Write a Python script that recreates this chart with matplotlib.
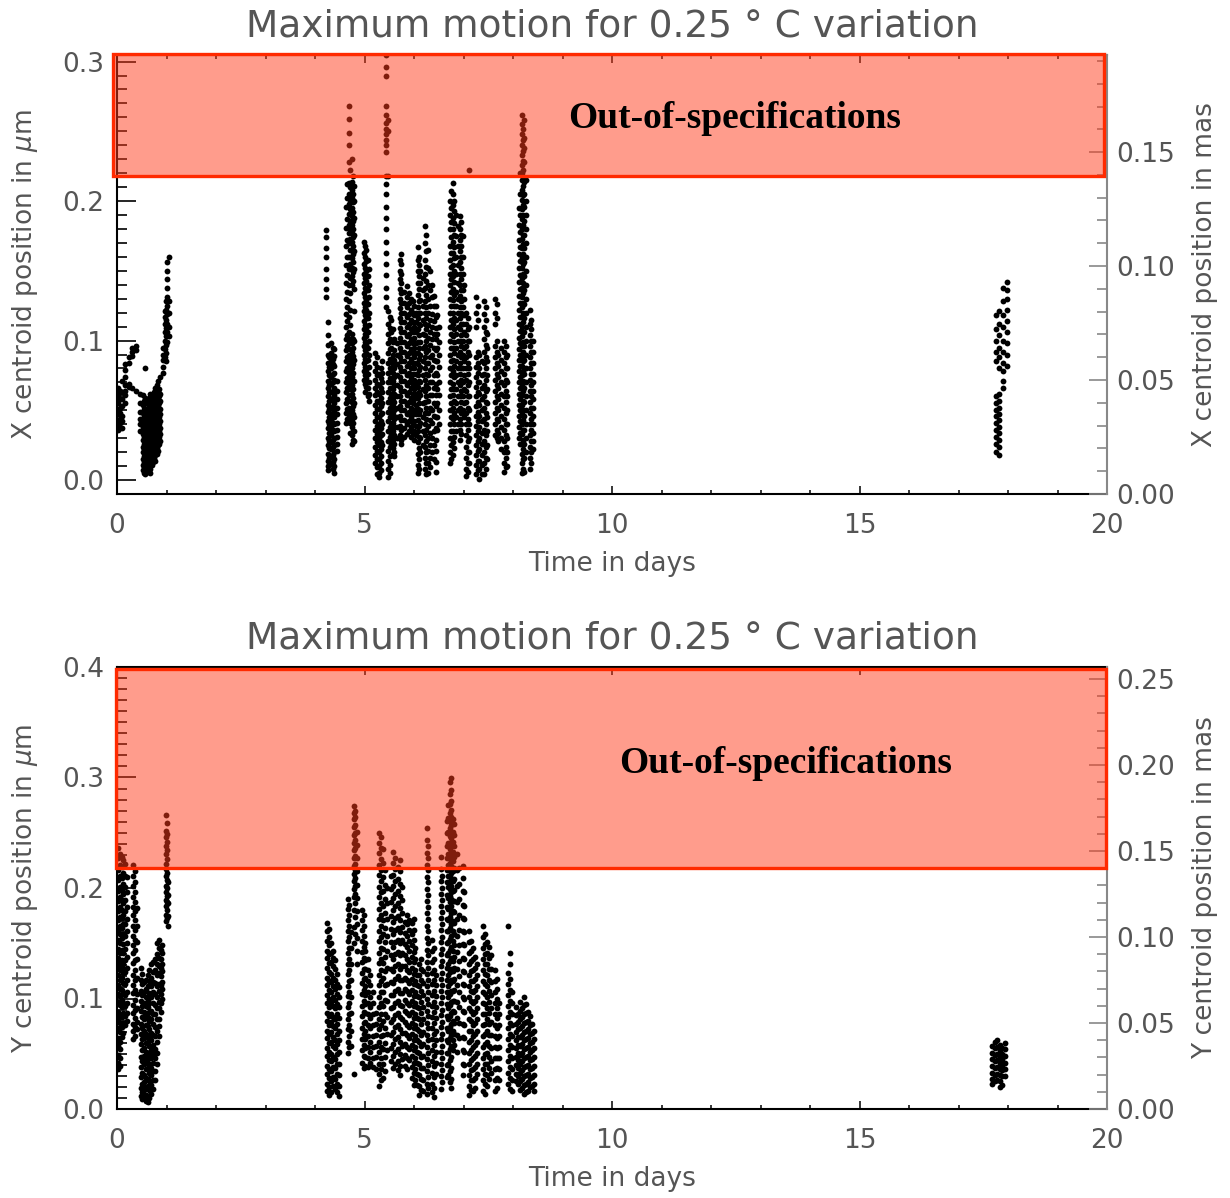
import matplotlib.pyplot as plt
from matplotlib.patches import Rectangle
from matplotlib.ticker import MultipleLocator, FormatStrFormatter

# values: (time in days, [samples in nm]) for each streak of points

# ---- top panel: X centroid ----
x_early = [
    (0.03, [66, 61, 55, 50, 47, 43, 39, 36]),
    (0.06, [64, 58, 52, 48, 44, 41, 37]),
    (0.10, [71, 63, 58, 53, 46, 42, 37]),
    (0.17, [83, 79, 74, 68, 64, 61, 55]),
    (0.24, [88, 84, 69, 67]),
    (0.31, [95, 92, 89, 66]),
    (0.38, [96, 93, 64]),
    (0.46, [62, 55, 49, 44, 40, 35]),
    (0.52, [61, 54, 48, 43, 38, 33, 29, 24, 20, 15, 11, 7]),
    (0.54, [57, 51, 46, 40, 35, 31, 26, 22, 17, 13, 9, 5]),
    (0.57, [80, 59, 51, 45, 41, 36, 31, 27, 22, 18, 14, 9, 4]),
    (0.60, [55, 49, 44, 39, 33, 28, 24, 19, 16, 12, 7]),
    (0.62, [57, 52, 47, 42, 38, 34, 29, 26, 21, 18, 14, 11]),
    (0.65, [59, 53, 48, 43, 38, 33, 29, 25, 20, 16, 10, 6]),
    (0.67, [62, 56, 50, 45, 40, 36, 31, 27, 23, 19, 15, 12, 8, 5]),
    (0.70, [60, 55, 50, 46, 41, 37, 32, 28, 24, 19, 15, 11]),
    (0.72, [58, 53, 48, 44, 39, 35, 30, 26, 21, 17, 13]),
    (0.75, [63, 57, 52, 47, 42, 37, 33, 28, 24, 20, 16]),
    (0.77, [66, 60, 55, 49, 44, 40, 35, 30, 26, 22, 18, 14]),
    (0.80, [68, 62, 56, 51, 46, 41, 37, 32, 27, 23, 19]),
    (0.82, [71, 64, 58, 53, 48, 43, 39, 34, 30, 25, 21]),
    (0.84, [65, 60, 55, 50, 45, 40, 35, 31, 26]),
    (0.87, [74, 62, 57, 51, 47, 42, 37, 33, 28]),
    (0.92, [86, 81, 77, 90, 95]),
    (0.97, [112, 106, 100, 94, 88, 117, 121]),
    (0.99, [128, 122, 115, 109, 103, 97, 91, 85]),
    (1.01, [156, 150, 144, 138, 131, 125, 119, 112, 106, 99]),
    (1.05, [160, 128, 120, 110, 103]),
]
x_mid = [
    (4.22, [179, 174, 166, 160, 151, 144, 137, 131]),
    (4.26, [113, 104, 97, 90, 84, 78, 71, 66, 60, 54, 49, 42, 37, 30, 25, 19, 14, 10, 7]),
    (4.29, [88, 81, 75, 68, 63, 57, 51, 45, 40, 34, 28, 23, 16, 11]),
    (4.32, [98, 91, 86, 80, 74, 69, 63, 58, 52, 47, 43, 37, 32, 27, 22, 17, 12]),
    (4.36, [95, 87, 83, 76, 70, 64, 59, 53, 48, 41, 36, 29, 24, 18, 13, 8]),
    (4.39, [94, 89, 82, 77, 72, 66, 61, 55, 50, 45, 40, 35, 30, 25, 20, 15, 10, 5]),
    (4.45, [71, 64, 58, 52, 47, 41, 36, 31, 26, 21]),
    (4.62, [196, 181, 168, 154, 141, 130, 119, 110, 101, 93, 85, 78, 70, 63, 55, 48, 41]),
    (4.65, [212, 202, 187, 172, 160, 147, 135, 124, 114, 104, 96, 88, 80, 73, 66, 58, 51, 44]),
    (4.68, [268, 259, 249, 240, 228, 213, 205, 198, 191, 183, 177, 170, 160, 151, 140,
            128, 117, 106, 98, 90, 83, 76, 68, 61, 52, 45]),
    (4.71, [222, 210, 201, 194, 186, 180, 173, 165, 155, 145, 134, 122, 111, 101, 94,
            87, 79, 72, 65, 57, 49, 41, 34]),
    (4.74, [230, 214, 208, 202, 195, 189, 183, 177, 171, 165, 159, 152, 146, 140, 105,
            98, 92, 86, 80, 74, 68, 62, 56, 50, 44, 38, 32, 26]),
    (4.77, [218, 205, 199, 192, 186, 180, 174, 168, 162, 156, 149, 143, 101, 95, 89,
            83, 77, 71, 65, 59, 53, 47, 41, 35, 29]),
    (4.79, [211, 200, 188, 176, 164, 151, 137, 121, 100, 86, 71, 55, 45, 35, 28]),
    (4.98, [171, 163, 155, 148, 141, 134, 127, 121, 114, 108, 102, 96, 90, 84, 78, 72]),
    (5.01, [168, 160, 152, 145, 138, 131, 124, 118, 111, 105, 99, 93, 87, 81, 75, 69, 63]),
    (5.04, [165, 157, 150, 143, 136, 129, 122, 116, 109, 103, 97, 91, 85, 79, 73, 67]),
    (5.07, [158, 146, 136, 126, 116, 106, 95, 86, 76, 66, 60]),
    (5.10, [151, 140, 131, 120, 111, 100, 90, 81, 70, 62, 57]),
    (5.22, [91, 84, 78, 72, 66, 61, 54, 48, 42, 36, 30, 24, 18, 12]),
    (5.26, [88, 81, 75, 69, 63, 57, 51, 45, 39, 33, 27, 21, 15, 9, 4]),
    (5.30, [76, 68, 62, 56, 51, 45, 40, 35, 30, 25, 20, 15, 10, 5, 2]),
    (5.33, [80, 73, 66, 59, 53, 47, 42, 37, 32, 27, 22, 17, 12, 7]),
    (5.36, [85, 77, 70, 63, 55, 48, 40, 33, 25]),
    (5.44, [305, 296, 290, 268, 262, 256, 252, 248, 244, 240, 235, 218, 212, 205, 196,
            188, 180, 171, 163, 155, 147, 138, 131, 124]),
    (5.48, [258, 250, 218, 121, 112, 105, 98, 91, 84, 77, 70, 63, 56, 49, 42, 35, 28,
            21, 14, 8, 2]),
    (5.51, [117, 109, 101, 94, 87, 80, 73, 66, 59, 52, 45, 38, 31, 24, 17, 11, 5]),
    (5.53, [115, 106, 95, 86, 78, 70, 62, 55, 48, 41, 33, 26]),
    (5.57, [108, 99, 90, 83, 77, 71, 65, 59, 53, 47, 41, 35, 29, 23, 19]),
    (5.60, [101, 93, 86, 80, 74, 68, 62, 56, 50, 44, 38, 32, 26, 20, 17]),
    (5.66, [98, 90, 83, 75, 68, 60, 52, 45, 38, 30]),
    (5.71, [158, 150, 144, 137, 130, 123, 116, 109, 102, 95, 88, 81, 74, 67, 60, 53,
            46, 39, 32]),
    (5.74, [162, 155, 148, 141, 134, 127, 120, 113, 106, 99, 92, 85, 78, 71, 64, 57,
            50, 43, 36, 29, 26]),
    (5.80, [135, 127, 120, 113, 106, 99, 92, 85, 78, 71, 64, 57, 50, 43, 37, 31]),
    (5.86, [139, 131, 124, 117, 110, 103, 96, 89, 82, 75, 68, 61, 54, 47, 40, 33]),
    (5.89, [134, 127, 119, 112, 105, 98, 91, 84, 77, 70, 63, 56, 49, 42, 35]),
    (5.93, [130, 122, 115, 108, 101, 94, 87, 80, 73, 66, 59, 52, 45, 38, 31]),
    (5.97, [128, 120, 113, 106, 98, 91, 84, 76, 69, 62, 55, 47, 40, 33]),
    (6.00, [125, 118, 110, 102, 95, 88, 80, 72, 65, 58, 50, 42, 35, 29]),
    (6.04, [120, 113, 106, 98, 91, 84, 76, 69, 62, 54, 47, 39, 32]),
    (6.08, [167, 158, 150, 141, 133, 124, 116, 108, 99, 91, 83, 75, 67, 59, 51, 43,
            35, 27, 19, 11, 5]),
    (6.11, [160, 154, 146, 137, 128, 120, 112, 104, 95, 87, 79, 71, 63, 55, 47, 39,
            31, 23, 15, 8]),
    (6.13, [150, 141, 129, 120, 111, 99, 90, 81, 70, 61, 50, 41, 30, 20]),
    (6.18, [145, 136, 125, 115, 105, 95, 85, 75, 65, 55, 45, 35, 25]),
    (6.22, [182, 170, 158, 148, 138, 128, 120, 112, 104, 96, 88, 80, 72, 64, 56, 48,
            40, 32, 24, 16, 8]),
    (6.25, [176, 164, 153, 143, 133, 124, 116, 108, 100, 92, 84, 76, 68, 60, 52, 44,
            36, 28, 20, 12, 4]),
    (6.28, [165, 152, 140, 130, 120, 111, 102, 93, 84, 75, 66, 57, 48, 39, 30, 21, 12, 5]),
    (6.32, [150, 136, 125, 115, 106, 97, 88, 79, 70, 61, 52, 43, 34, 25, 16, 9]),
    (6.36, [140, 131, 119, 110, 101, 90, 81, 70, 61, 50, 41, 30, 20]),
    (6.40, [132, 125, 114, 105, 95, 86, 75, 66, 55, 46, 35, 25, 15]),
    (6.44, [125, 117, 109, 101, 93, 85, 77, 69, 61, 53, 45, 37, 29, 21, 13, 6]),
    (6.47, [118, 105, 95, 85, 75, 65, 55, 45, 36]),
    (6.50, [110, 99, 90, 81, 70, 61, 50, 40]),
    (6.72, [200, 190, 180, 168, 158, 148, 140, 130, 120, 110, 100, 90, 80, 70, 60,
            50, 40, 30, 20, 12]),
    (6.75, [207, 195, 185, 174, 163, 153, 144, 135, 125, 115, 105, 95, 85, 75, 65,
            55, 45, 35, 25, 15]),
    (6.78, [213, 205, 197, 188, 180, 171, 163, 154, 146, 137, 129, 120, 112, 103, 95,
            86, 78, 69, 61, 52, 44, 35, 27, 18]),
    (6.81, [200, 193, 184, 176, 167, 159, 150, 142, 133, 125, 116, 108, 99, 91, 82,
            74, 65, 57, 48, 40, 31, 23]),
    (6.84, [190, 175, 160, 148, 135, 125, 115, 105, 95, 85, 75, 65, 55, 45, 35]),
    (6.88, [182, 168, 154, 141, 130, 120, 110, 100, 90, 80, 70, 60, 50, 40]),
    (6.92, [189, 180, 172, 164, 156, 148, 140, 132, 124, 116, 108, 100, 92, 84, 76,
            68, 60, 52, 44, 36, 29]),
    (6.95, [185, 176, 168, 160, 152, 144, 136, 128, 120, 112, 104, 96, 88, 80, 72,
            64, 56, 48, 40, 33]),
    (6.98, [175, 160, 148, 136, 124, 112, 100, 90, 80, 70, 60, 50]),
    (7.02, [140, 130, 118, 106, 95, 85, 75, 65, 55, 45]),
    (7.06, [120, 112, 104, 96, 88, 80, 72, 64, 56, 48, 40, 32, 24, 16, 8, 3]),
    (7.09, [116, 108, 100, 92, 84, 76, 68, 60, 52, 44, 36, 28, 20, 12, 6]),
    (7.12, [222, 110, 100, 90, 80, 70, 60, 50, 40, 30, 20, 12]),
    (7.26, [131, 120, 110, 88, 81, 74, 67, 60, 53, 46, 39, 32, 25, 18, 11, 4]),
    (7.29, [125, 115, 92, 84, 77, 70, 63, 56, 49, 42, 35, 28, 21, 14, 7]),
    (7.32, [90, 80, 70, 62, 54, 46, 38, 30, 22, 14, 8, 1]),
    (7.37, [85, 75, 66, 58, 50, 42, 34, 26, 18, 11, 4]),
    (7.42, [128, 119, 110, 101, 92, 84, 76, 68, 60, 52, 44, 36, 28, 20, 12, 4]),
    (7.45, [124, 115, 106, 97, 88, 80, 72, 64, 56, 48, 40, 32, 24, 16, 8]),
    (7.48, [105, 95, 85, 75, 65, 55, 45, 35, 25, 15]),
    (7.64, [130, 120, 112, 96, 88, 80, 72, 64, 56, 48, 40, 32]),
    (7.67, [126, 116, 100, 92, 84, 76, 68, 60, 52, 44, 36, 30]),
    (7.70, [90, 82, 74, 66, 58, 50, 42, 34, 28]),
    (7.76, [95, 86, 78, 70, 62, 54, 46, 38, 30, 22]),
    (7.82, [100, 92, 84, 76, 68, 60, 52, 44, 36, 28, 20, 12, 6]),
    (7.85, [96, 88, 80, 72, 64, 56, 48, 40, 32, 24, 16, 9]),
    (7.88, [90, 80, 70, 60, 50, 40, 30, 20, 10]),
    (8.12, [195, 183, 172, 162, 152, 142, 132, 122, 112, 102, 94, 86, 78, 70, 62, 54,
            46, 38, 30]),
    (8.15, [220, 205, 190, 178, 167, 157, 147, 137, 127, 117, 107, 98, 90, 82, 74,
            66, 58, 50, 42, 34, 26]),
    (8.18, [262, 255, 248, 240, 233, 226, 220, 215, 208, 201, 194, 187, 180, 173, 166,
            159, 152, 145, 138, 131, 124, 117, 110, 103, 96, 89, 82, 75, 68, 61, 54,
            47, 40, 33, 26, 19, 12, 5]),
    (8.21, [252, 244, 236, 229, 222, 217, 211, 204, 197, 190, 183, 176, 169, 162, 155,
            148, 141, 134, 127, 120, 113, 106, 99, 92, 85, 78, 71, 64, 57, 50, 43, 36,
            29, 22, 15, 8]),
    (8.23, [258, 245, 238, 228, 214, 205, 196, 186, 176, 166, 156, 146, 136, 126, 116,
            106, 96, 86, 76, 66, 56, 46, 36, 26, 16, 6]),
    (8.26, [215, 200, 190, 180, 170, 160, 150, 140, 130, 120, 110, 100, 90, 80, 70,
            60, 50, 40, 30, 20]),
    (8.34, [122, 112, 104, 96, 88, 80, 72, 64, 56, 48, 40, 32, 24, 16, 8]),
    (8.37, [115, 108, 100, 92, 84, 76, 68, 60, 52, 44, 36, 28, 20, 12]),
    (8.40, [100, 92, 84, 76, 70, 64, 58, 52, 46, 40, 34, 28, 22]),
]
x_late = [
    (17.76, [118, 108, 100, 92, 85, 60, 55, 50, 46, 41, 36, 31, 26, 20]),
    (17.82, [121, 112, 104, 95, 88, 80, 62, 57, 52, 47, 43, 38, 34, 29, 24, 18]),
    (17.90, [138, 128, 118, 110, 100, 92, 84, 78, 71, 66]),
    (17.97, [142, 136, 130, 122, 114, 106, 98, 90, 82]),
]

# ---- bottom panel: Y centroid ----
y_early = [
    (0.03, [236, 227, 216, 207, 197, 188, 179, 171, 162, 153, 145, 137, 129, 121, 112,
            104, 97, 88, 81, 73, 64, 57, 49, 42, 36]),
    (0.06, [231, 221, 211, 201, 192, 183, 174, 166, 158, 150, 141, 133, 126, 117, 109,
            102, 94, 85, 78, 70, 61, 54, 46, 39]),
    (0.10, [228, 219, 209, 198, 189, 180, 173, 164, 155, 144, 135, 128, 119, 108, 99,
            92, 83, 74, 65]),
    (0.13, [225, 214, 204, 195, 186, 176, 167, 158, 149, 141, 131, 123, 114, 104, 96, 87, 78, 69]),
    (0.17, [222, 211, 201, 189, 179, 167, 157, 145, 135, 124, 113, 103, 93, 84, 76]),
    (0.21, [210, 196, 183, 172, 161, 150, 138, 128, 117, 106, 96, 87, 80]),
    (0.33, [221, 211, 202, 192, 183, 176, 166, 157, 148, 141, 132, 121, 112, 105, 94,
            87, 77, 71, 63]),
    (0.36, [215, 205, 196, 187, 179, 171, 162, 153, 144, 135, 126, 117, 108, 99, 90, 82, 74, 66]),
    (0.40, [182, 166, 151, 136, 119, 104, 91, 79, 72]),
    (0.48, [128, 117, 107, 98, 89, 77, 68, 59, 47, 38, 29, 19, 12]),
    (0.51, [122, 113, 103, 93, 83, 73, 63, 53, 43, 33, 23, 15, 9]),
    (0.55, [115, 106, 96, 88, 81, 71, 64, 55, 48, 41, 31, 24, 17, 10]),
    (0.58, [117, 109, 101, 93, 84, 76, 68, 60, 52, 44, 36, 28, 20, 13, 7]),
    (0.62, [121, 111, 99, 92, 83, 75, 67, 61, 51, 45, 37, 27, 21, 12, 6]),
    (0.65, [126, 116, 105, 96, 88, 80, 72, 64, 57, 49, 41, 33, 25, 17, 10]),
    (0.69, [131, 119, 111, 101, 89, 81, 69, 62, 53, 46, 37, 31, 22, 14]),
    (0.72, [133, 124, 115, 106, 96, 86, 77, 67, 58, 50, 42, 34, 26, 18]),
    (0.76, [136, 126, 114, 104, 94, 86, 74, 66, 54, 46, 34, 26]),
    (0.80, [150, 140, 131, 121, 111, 101, 91, 81, 71, 61, 51, 41]),
    (0.84, [153, 146, 137, 129, 123, 113, 107, 97, 91, 81, 75, 66]),
    (0.88, [144, 136, 128, 120, 112, 104, 96, 88]),
    (0.91, [148, 141, 131, 125, 115, 109, 100]),
    (0.98, [266, 252, 246, 238, 231, 222, 217, 211, 202, 196, 189, 184, 176, 170]),
    (1.01, [259, 249, 242, 234, 226, 214, 207, 200, 193, 187, 180, 173]),
    (1.04, [205, 194, 186, 175, 166]),
]
y_mid = [
    (4.24, [168, 161, 152, 143, 137, 128, 119, 112, 103, 96, 87, 80, 71, 64, 55, 48, 39, 32, 23, 16]),
    (4.28, [163, 156, 148, 140, 132, 124, 116, 108, 100, 92, 84, 76, 68, 60, 52, 44, 36, 28, 20, 13]),
    (4.32, [150, 141, 133, 122, 115, 106, 97, 86, 79, 70, 61, 50, 43, 34, 25, 15]),
    (4.36, [143, 137, 129, 119, 111, 101, 93, 83, 75, 65, 57, 47, 38, 29, 21]),
    (4.40, [135, 127, 117, 109, 99, 91, 81, 73, 62, 55, 45, 37, 27, 18]),
    (4.44, [122, 113, 104, 95, 86, 77, 68, 59, 50, 41, 32, 23, 15]),
    (4.48, [110, 101, 92, 82, 71, 62, 52, 41, 31, 21, 12]),
    (4.66, [190, 181, 171, 161, 152, 141, 131, 122, 111, 102, 92, 81, 72, 61, 51]),
    (4.69, [185, 176, 166, 156, 146, 136, 126, 116, 106, 96, 86, 76, 66, 56]),
    (4.72, [160, 146, 131, 117, 101, 87, 71, 57]),
    (4.78, [274, 268, 262, 255, 248, 241, 234, 227, 220, 213, 206, 199, 192, 180, 165, 150, 32]),
    (4.81, [270, 264, 257, 250, 243, 236, 229, 222, 216, 209, 202, 195, 186, 174, 158]),
    (4.85, [251, 239, 227, 215, 203, 191, 179, 167, 155, 143, 131]),
    (4.94, [180, 171, 162, 152, 142, 133, 123, 114, 104, 93, 84, 73, 63, 53, 42]),
    (4.98, [176, 166, 157, 147, 137, 127, 118, 108, 98, 88, 78, 68, 58, 48, 37]),
    (5.02, [150, 143, 135, 127, 119, 111, 103, 95, 87, 79, 71, 63, 55, 47, 39]),
    (5.07, [136, 126, 116, 106, 96, 86, 76, 66, 56, 46, 38]),
    (5.12, [121, 112, 101, 92, 82, 73, 61, 52, 42]),
    (5.18, [106, 96, 86, 76, 66, 56, 46, 38]),
    (5.23, [87, 77, 67, 57, 47, 36]),
    (5.30, [250, 241, 232, 221, 212, 201, 192, 181, 172, 161, 152, 141, 132, 121, 112,
            101, 92, 81, 72, 61, 52, 41, 32, 21]),
    (5.33, [246, 236, 226, 216, 206, 196, 186, 176, 166, 156, 146, 136, 126, 116, 106,
            96, 86, 76, 66, 56, 46, 36, 26]),
    (5.37, [235, 223, 210, 197, 184, 171, 158, 145, 132, 119, 106, 93, 80, 67, 54, 41, 28]),
    (5.41, [216, 203, 190, 177, 164, 151, 138, 125, 112, 99, 86, 73, 60, 47, 34]),
    (5.45, [200, 186, 172, 157, 143, 128, 113, 98, 83, 68, 53]),
    (5.53, [211, 199, 187, 175, 163, 151, 139, 127, 115, 103, 91, 79, 67, 55, 43]),
    (5.57, [233, 223, 212, 202, 191, 180, 169, 158, 147, 136, 125, 114, 103, 92, 81,
            70, 59, 48, 37]),
    (5.61, [227, 217, 206, 195, 184, 173, 162, 151, 140, 129, 118, 107, 96, 85, 74, 63, 52, 41]),
    (5.67, [219, 208, 197, 186, 175, 164, 153, 142, 131, 120, 109, 98, 87, 76, 65, 54, 43, 35]),
    (5.71, [225, 215, 204, 193, 182, 171, 160, 150, 139, 127, 117, 105, 94, 83, 72,
            61, 50, 39, 31]),
    (5.75, [201, 189, 177, 165, 153, 141, 129, 117, 105, 93, 81, 69, 57, 45]),
    (5.81, [169, 159, 149, 139, 129, 119, 109, 99, 89, 79, 69, 59, 49, 39]),
    (5.85, [176, 167, 157, 147, 136, 126, 117, 107, 96, 87, 76, 67, 56, 46, 36]),
    (5.90, [171, 162, 152, 143, 133, 124, 114, 104, 94, 85, 74, 64, 54, 44]),
    (5.95, [168, 158, 148, 138, 128, 118, 108, 98, 88, 78, 68, 58, 48, 38, 28]),
    (5.99, [172, 162, 153, 142, 133, 122, 113, 102, 93, 82, 73, 62, 53, 42, 33, 22]),
    (6.03, [146, 136, 126, 116, 106, 96, 86, 76, 66, 56, 46, 36, 26]),
    (6.07, [121, 112, 102, 92, 82, 72, 62, 52, 42, 32, 22]),
    (6.11, [131, 121, 111, 101, 91, 81, 71, 61, 51, 41, 31, 21, 13]),
    (6.15, [136, 127, 117, 107, 97, 87, 77, 67, 57, 47, 37, 27, 17]),
    (6.19, [125, 114, 103, 92, 81, 70, 59, 48, 37, 26, 16]),
    (6.26, [254, 243, 232, 221, 210, 199, 188, 177, 166, 155, 144, 133, 122, 111, 100,
            89, 78, 67, 56, 45, 34, 23, 14]),
    (6.29, [238, 227, 216, 205, 194, 183, 172, 161, 150, 139, 128, 117, 106, 95, 84,
            73, 62, 51, 40, 29, 19]),
    (6.36, [153, 143, 133, 123, 113, 103, 93, 83, 73, 63, 53, 43, 33, 23, 15]),
    (6.40, [146, 136, 126, 117, 107, 97, 88, 78, 68, 58, 48, 39, 29, 19, 11]),
    (6.45, [121, 112, 102, 92, 82, 71, 62, 52, 42, 32]),
    (6.54, [228, 217, 206, 195, 184, 173, 162, 151, 140, 129, 118, 107, 96, 85, 74,
            63, 52, 41, 30, 18]),
    (6.57, [211, 200, 189, 178, 167, 156, 145, 134, 123, 112, 101, 90, 79, 68, 57, 46, 35, 24]),
    (6.66, [261, 250, 238, 227, 216, 205, 194, 183, 172, 161, 150, 139, 128, 117, 106,
            95, 84, 73, 62, 51, 40, 29]),
    (6.69, [275, 263, 251, 241, 231, 221, 211, 201, 191, 181, 171, 161, 151, 141, 131,
            121, 111, 101, 91, 81, 71, 61, 51, 41, 31]),
    (6.72, [296, 285, 276, 268, 261, 254, 247, 241, 235, 229, 223, 217, 211, 205, 199,
            193, 187, 181, 174, 164, 154, 144, 134, 124, 114, 104, 94, 84, 74, 64, 54,
            44, 34, 24]),
    (6.75, [300, 289, 279, 271, 264, 257, 251, 245, 238, 232, 226, 220, 214, 208, 202,
            196, 190, 184, 177, 167, 157, 147, 137, 127, 117, 107, 97, 87, 77, 67, 57,
            47, 37, 27, 19]),
    (6.78, [262, 251, 242, 233, 224, 215, 206, 197, 188, 179, 170, 161, 152, 143, 134,
            125, 116, 107, 98, 89, 80, 71, 62, 53]),
    (6.81, [258, 248, 238, 228, 218, 208, 198, 188, 178, 168, 158, 148, 138, 128, 118,
            108, 98, 88, 78, 68, 58]),
    (6.86, [231, 216, 202, 187, 172, 157, 142, 127, 112, 97, 82, 67, 52]),
    (6.90, [218, 204, 190, 176, 162, 148, 134, 120, 106, 92, 78, 64]),
    (6.98, [220, 209, 197, 185, 173, 161, 149, 137, 125, 113, 101, 89, 77, 65, 53, 41, 31]),
    (7.02, [196, 184, 172, 160, 148, 136, 124, 112, 100, 88, 76, 64, 52, 40]),
    (7.11, [161, 151, 141, 131, 121, 111, 101, 91, 81, 71, 61, 51, 41, 31, 21, 13]),
    (7.15, [152, 143, 134, 125, 116, 107, 98, 89, 80, 71, 62, 53, 44, 35, 26, 17]),
    (7.20, [146, 136, 126, 116, 106, 96, 86, 76, 66, 56, 46, 36, 26, 16]),
    (7.24, [138, 128, 118, 108, 98, 88, 78, 68, 58, 48, 38, 28, 19]),
    (7.28, [131, 121, 111, 101, 91, 81, 71, 61, 51, 41, 32]),
    (7.40, [166, 156, 146, 136, 126, 116, 106, 96, 86, 76, 66, 56, 46, 36, 26, 16]),
    (7.44, [158, 149, 140, 131, 122, 113, 104, 95, 86, 77, 68, 59, 50, 41, 32, 23, 14]),
    (7.48, [151, 141, 131, 121, 111, 101, 91, 81, 71, 61, 51, 41, 31, 21]),
    (7.52, [147, 137, 127, 117, 107, 97, 87, 77, 67, 57, 47, 37, 27]),
    (7.56, [139, 127, 115, 103, 91, 79, 67, 55, 43, 33]),
    (7.64, [126, 116, 106, 96, 86, 76, 66, 56, 46, 36, 26, 16]),
    (7.68, [118, 109, 100, 91, 82, 73, 64, 55, 46, 37, 28, 19]),
    (7.72, [96, 86, 76, 66, 56, 46, 36, 26]),
    (7.90, [166, 123, 113, 103, 93, 83, 73, 63, 53, 43, 33, 23]),
    (7.94, [141, 131, 118, 108, 98, 88, 78, 68, 58, 48, 38, 28, 18]),
    (7.98, [106, 96, 86, 76, 66, 56, 46, 36, 26, 16]),
    (8.06, [92, 85, 77, 70, 62, 55, 47, 40, 32, 25]),
    (8.10, [86, 79, 72, 65, 58, 51, 44, 37, 30, 23]),
    (8.14, [97, 89, 81, 73, 65, 57, 49, 41, 33, 25, 17]),
    (8.18, [91, 83, 75, 67, 59, 51, 43, 35, 27, 19]),
    (8.22, [101, 94, 86, 78, 70, 62, 54, 46, 38, 30, 22, 14]),
    (8.26, [95, 87, 79, 71, 63, 55, 47, 39, 31, 23, 15]),
    (8.30, [88, 80, 72, 64, 56, 48, 40, 32, 24, 16]),
    (8.34, [84, 76, 68, 60, 52, 44, 36, 28, 20]),
    (8.38, [77, 69, 61, 53, 45, 37, 29, 21]),
    (8.42, [71, 63, 55, 47, 39, 31, 23, 16]),
]
y_late = [
    (17.68, [57, 51, 45, 39, 33, 27, 23]),
    (17.73, [61, 55, 49, 43, 37, 31, 25]),
    (17.78, [62, 56, 50, 44, 38, 32, 26]),
    (17.83, [58, 53, 47, 42, 36, 31, 25, 20]),
    (17.88, [55, 50, 45, 40, 35, 30, 22]),
    (17.93, [60, 54, 48, 42, 36, 30]),
]

x_tick_labels = ['0', '5', '10', '15', '20']
title = 'Maximum motion for 0.25 ° C variation'
spec_text = 'Out-of-specifications'
spec_limit = 0.218   # um, lower edge of the out-of-spec band


def flatten(*segments):
    tt, yy = [], []
    for seg in segments:
        for t, vals in seg:
            tt += [t] * len(vals)
            yy += [v / 1000 for v in vals]
    return tt, yy


grey = '#555555'
fig = plt.figure(figsize=(12.3, 11.98), dpi=100)

panels = [
    # axes rect, data, left ylim, right ylim, band, text pos, labels
    ([117 / 1230, 1 - 494 / 1198, 990 / 1230, 439 / 1198], (x_early, x_mid, x_late),
     (-0.010, 0.3047), (0, 0.1926), (-0.08, 19.94, 0.3054), (12.48, 0.2595),
     r'X centroid position in $\mu$m', 'X centroid position in mas'),
    ([117 / 1230, 1 - 1109 / 1198, 990 / 1230, 442 / 1198], (y_early, y_mid, y_late),
     (0, 0.4), (0, 0.257), (-0.02, 19.98, 0.398), (13.5, 0.313),
     r'Y centroid position in $\mu$m', 'Y centroid position in mas'),
]

for rect, segs, ylim, rlim, band, tpos, lab_l, lab_r in panels:
    ax = fig.add_axes(rect)
    t, v = flatten(*segs)
    ax.plot(t, v, 'o', ms=4.2, mew=0, color='black', zorder=2)

    ax.set_xlim(0, 20)
    ax.set_ylim(*ylim)
    ax.xaxis.set_minor_locator(MultipleLocator(1))
    ax.set_xticks([0, 5, 10, 15, 20], x_tick_labels)
    ax.yaxis.set_major_locator(MultipleLocator(0.1))
    ax.yaxis.set_minor_locator(MultipleLocator(0.01))
    ax.yaxis.set_major_formatter(FormatStrFormatter('%.1f'))
    ax.tick_params(axis='x', which='both', direction='in', top=True,
                   labelsize=19, labelcolor=grey, pad=14, width=1.1)
    ax.tick_params(axis='x', which='major', length=6)
    ax.tick_params(axis='x', which='minor', length=3)
    ax.tick_params(axis='y', which='both', direction='in', labelsize=19,
                   labelcolor=grey, pad=9, width=1.2)
    ax.tick_params(axis='y', which='major', length=14)
    ax.tick_params(axis='y', which='minor', length=7)
    for s in ['left', 'bottom', 'top']:
        ax.spines[s].set_linewidth(1.5)
    ax.spines['right'].set_visible(False)
    ax.set_xlabel('Time in days', fontsize=19, color=grey, labelpad=8)
    ax.set_ylabel(lab_l, fontsize=19, color=grey, labelpad=16)
    ax.set_title(title, fontsize=27, color=grey, pad=13)

    ax2 = ax.twinx()
    ax2.set_ylim(*rlim)
    ax2.yaxis.set_major_locator(MultipleLocator(0.05))
    ax2.yaxis.set_minor_locator(MultipleLocator(0.01))
    ax2.yaxis.set_major_formatter(FormatStrFormatter('%.2f'))
    ax2.tick_params(axis='y', which='both', direction='in', labelsize=19,
                    labelcolor=grey, color='#888888', pad=7, width=1.2)
    ax2.tick_params(axis='y', which='major', length=13)
    ax2.tick_params(axis='y', which='minor', length=7)
    for s in ['left', 'bottom', 'top']:
        ax2.spines[s].set_visible(False)
    ax2.spines['right'].set_color('#888888')
    ax2.spines['right'].set_linewidth(1.5)
    ax2.set_ylabel(lab_r, fontsize=19, color=grey, rotation=90, labelpad=12)

    # out-of-specifications band, drawn over the points
    x0, x1, ytop = band
    ax2.add_patch(Rectangle((x0, spec_limit), x1 - x0, ytop - spec_limit,
                            transform=ax.transData, facecolor=(1.0, 0.23, 0.1, 0.5),
                            edgecolor='#ff2a00', linewidth=2.4, clip_on=False,
                            zorder=3))
    ax2.text(tpos[0], tpos[1], spec_text, transform=ax.transData,
             ha='center', va='center', fontsize=27, fontweight='bold',
             family='Liberation Serif', color='black', zorder=5)

fig.savefig('out.png', dpi=100)
